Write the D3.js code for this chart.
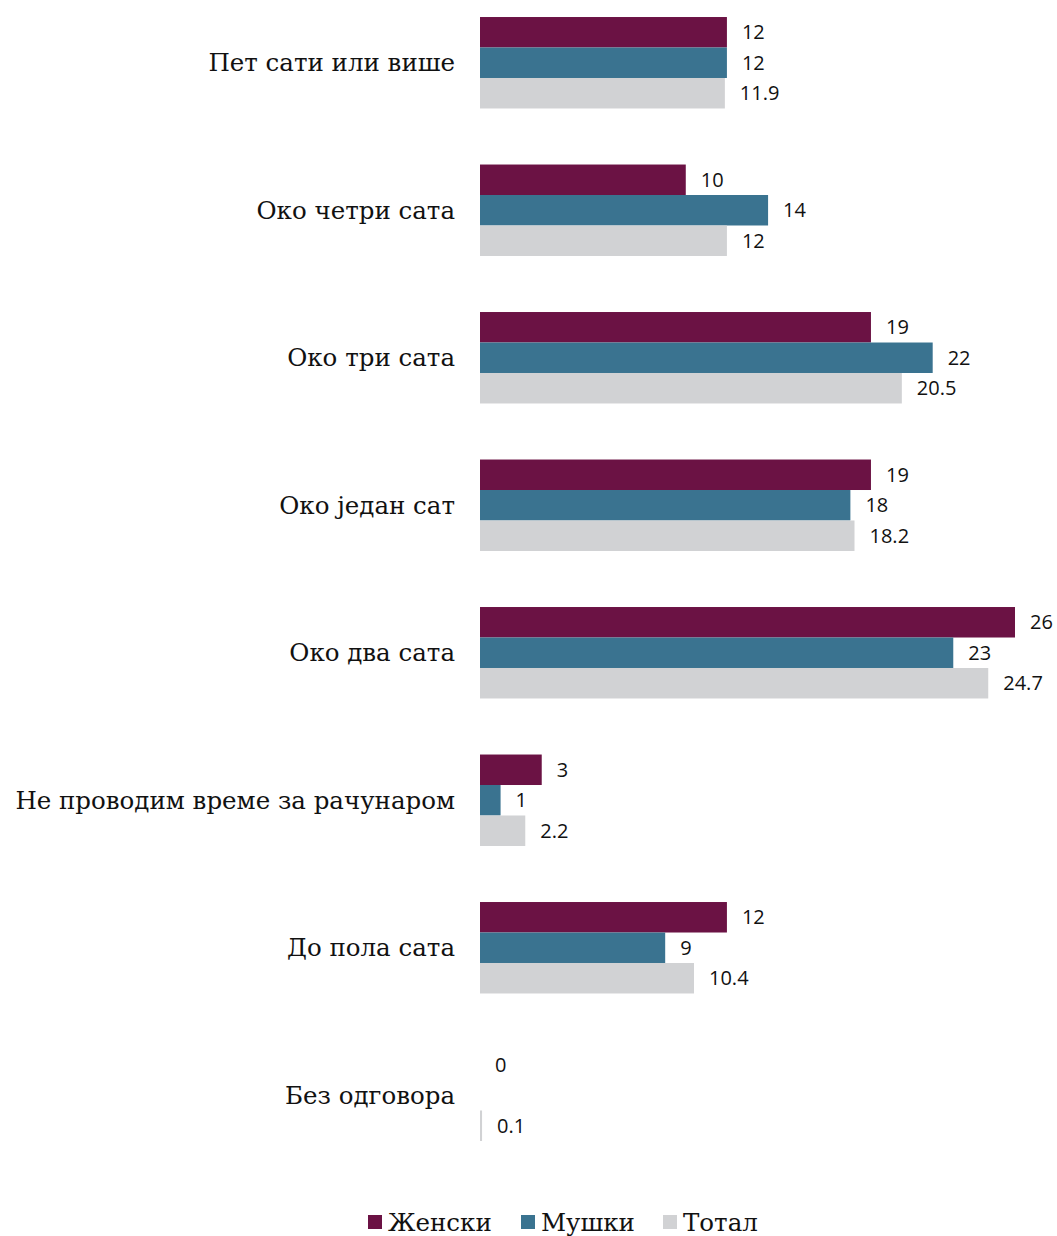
<!DOCTYPE html>
<html>
<head>
<meta charset="utf-8">
<script src="https://cdn.jsdelivr.net/npm/d3@7"></script>
<style>
  body { margin: 0; background: #fff; }
  .cat { font-family: "DejaVu Serif", serif; font-size: 24.5px; fill: #111; }
  .val { font-family: "Open Sans", sans-serif; font-size: 20px; fill: #111; }
  .leg { font-family: "DejaVu Serif", serif; font-size: 24.5px; fill: #111; }
</style>
</head>
<body>
<div id="graph"></div>
<script>
const categories = ["Пет сати или више", "Око четри сата", "Око три сата", "Око један сат",
  "Око два сата", "Не проводим време за рачунаром", "До пола сата", "Без одговора"];
const seriesNames = ["Женски", "Мушки", "Тотал"];
const zenski = [12, 10, 19, 19, 26, 3, 12, 0];
const muski = [12, 14, 22, 18, 23, 1, 9, null];
const total = [11.9, 12, 20.5, 18.2, 24.7, 2.2, 10.4, 0.1];
const colors = ["#6b1244", "#3a7390", "#d1d2d4"];

const width = 1057, height = 1236;
const seriesVals = [zenski, muski, total];

const svg = d3.select('#graph').append('svg')
  .attr('width', width).attr('height', height);

const x = d3.scaleLinear().domain([0, 26]).range([480, 1015]);
const y = d3.scaleBand().domain(categories).range([17 - 28, 17 - 28 + 147.5 * 8]).paddingInner(0.38).paddingOuter(0.19);
const ySub = d3.scaleBand().domain(d3.range(3)).range([0, y.bandwidth()]);

const groups = svg.selectAll('g.grp').data(categories).enter().append('g')
  .attr('transform', d => `translate(0,${y(d)})`);

groups.append('text').attr('class', 'cat')
  .attr('x', 455).attr('y', y.bandwidth() / 2).attr('dy', '0.35em')
  .attr('text-anchor', 'end').text(d => d);

groups.each(function(cat, ci) {
  const g = d3.select(this);
  seriesVals.forEach((vals, si) => {
    const v = vals[ci];
    if (v === null) return;
    if (v > 0) {
      g.append('rect')
        .attr('x', x(0)).attr('y', ySub(si))
        .attr('width', x(v) - x(0)).attr('height', ySub.bandwidth())
        .attr('fill', colors[si]);
    }
    g.append('text').attr('class', 'val')
      .attr('x', x(v) + 15).attr('y', ySub(si) + ySub.bandwidth() / 2).attr('dy', '0.35em')
      .text(v);
  });
});

const legendX = [368, 521, 663];
const leg = svg.append('g').attr('transform', 'translate(0,1222)');
seriesNames.forEach((n, i) => {
  leg.append('rect').attr('x', legendX[i]).attr('y', -7).attr('width', 14).attr('height', 14).attr('fill', colors[i]);
  leg.append('text').attr('class', 'leg').attr('x', legendX[i] + 20).attr('y', 0).attr('dy', '0.35em').text(n);
});
</script>
</body>
</html>
